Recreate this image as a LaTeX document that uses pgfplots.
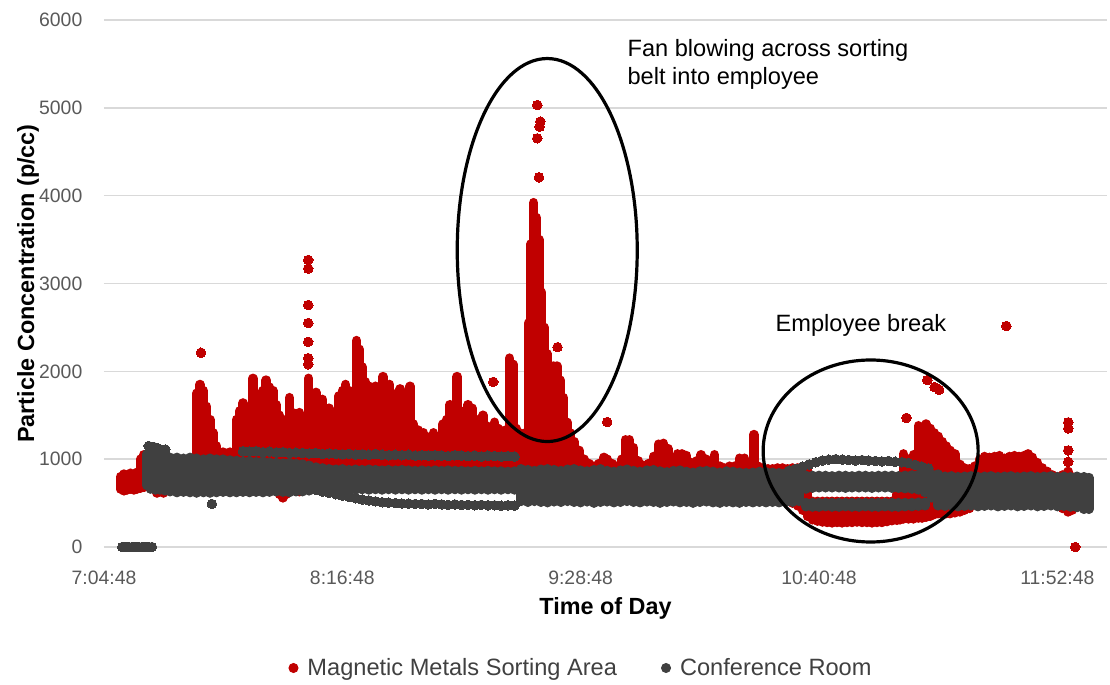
\documentclass[border=0pt]{standalone}
\usepackage{fontspec}
\setmainfont{Liberation Sans}
\usepackage{pgfplots}
\usepackage{pgfplotstable}
\pgfplotsset{compat=1.18}
\definecolor{cRed}{HTML}{C00000}
\definecolor{cGrey}{HTML}{404040}
\definecolor{cGrid}{HTML}{D9D9D9}
\definecolor{cTick}{HTML}{595959}

% x = minutes after 7:04:48
% Magnetic Metals Sorting Area: dense columns of points (lower, upper reading at each time)
\pgfplotstableread{
t lo hi
5 660 800
6 640 830
7 650 820
8 660 840
9 650 830
10 660 850
11 670 1000
12 680 1050
14 700 900
16 615 900
18 615 950
20 680 950
22 680 950
24 680 980
26 680 1000
28 680 1750
29 680 1850
30 680 1780
31 680 1600
32 680 1450
33 680 1300
34 680 1150
36 680 1080
38 680 1080
40 680 1450
41 680 1550
42 680 1640
43 680 1500
44 680 1480
45 680 1920
46 680 1500
47 680 1600
48 680 1780
49 680 1900
50 680 1820
51 680 1780
52 680 1620
53 600 1500
54 560 1430
55 600 1450
56 680 1700
57 680 1530
58 640 1500
59 630 1530
60 680 1400
61 680 1300
61.8 680 1920
63 680 1680
64 680 1760
65 680 1650
66 680 1680
68 680 1580
70 680 1480
71 680 1720
72 680 1780
73 680 1850
74 680 1780
75 680 1680
76.3 680 2350
77.2 680 2250
78 680 2050
79 680 1880
80 680 1830
81 680 1780
82 680 1830
83 680 1700
84.3 680 1940
85.3 680 1700
86.3 680 1850
87.5 680 1700
88.5 680 1750
89.5 680 1800
90.5 680 1650
91.5 680 1600
92.5 680 1830
93.5 680 1400
95 680 1330
96.5 680 1300
98 680 1250
99.5 680 1300
100.5 680 1200
101.5 680 950
102.5 680 1400
103.5 680 1450
104.5 680 1620
105.5 680 1500
106.7 680 1940
107.7 680 1550
109 680 1500
110 680 1620
111.2 680 1580
112.5 680 1450
113.5 680 1400
114.5 680 1500
115.5 680 1380
116.8 680 1350
118 680 1420
119 680 1350
120.2 680 1320
121.3 680 1330
122.5 680 2150
123.5 680 2080
124.5 680 1350
125.5 680 1300
126.5 680 950
127.3 680 1300
128.2 680 2550
129 680 3450
129.8 680 3920
130.6 680 3750
131.4 680 3500
132.2 680 2900
133 680 2500
133.8 680 2200
134.8 680 1950
135.8 680 2060
136.8 680 2060
137.8 680 1900
138.8 680 1700
139.8 680 1420
140.8 680 1300
142 680 1200
143.5 680 1100
145 680 1000
146.5 560 950
148 540 920
149.5 540 950
151 560 1020
152 560 1000
153.5 620 950
155 680 920
156.5 680 1000
157.5 680 1220
158.7 680 1220
160 680 1130
161.5 680 980
163 680 930
164.5 680 950
166 680 1030
167.5 680 1170
169 680 1180
170.3 680 1120
171.6 680 960
173.2 680 1060
174.6 680 1060
176 680 1040
177.5 680 960
179 680 980
180.4 680 1050
181.8 680 1000
183 680 960
184.4 680 1050
186 680 920
187.5 680 900
189 680 920
190.5 680 920
192 680 1010
193.5 600 1010
195 580 960
196.3 580 1280
197.5 580 920
199 580 900
200.5 580 890
202 580 890
203.5 560 900
205 540 900
206.5 520 890
208 500 900
209.5 470 900
211 420 900
212.5 350 880
214 310 520
215.5 295 520
217 285 520
218.5 280 520
220 275 520
221.5 280 520
223 275 520
224.5 280 520
226 280 520
227.5 285 520
229 280 520
230.5 280 520
232 275 520
233.5 280 520
235 280 520
236.5 290 520
238 300 520
239.5 305 600
240.5 310 700
241.5 320 1060
243 320 1000
244.5 320 1050
246 330 1380
247.2 330 1300
248.4 340 1400
249.6 350 1350
250.8 370 1300
252 380 1260
253.2 380 1200
254.4 380 1150
255.6 380 1100
257 390 1060
258.5 400 940
260 420 900
261.5 440 890
263 680 920
264.5 680 1000
266 680 1030
267.5 680 1020
269 680 1030
270.5 680 1040
272 680 1010
273.5 680 1030
275 680 1040
276.5 680 1030
278 680 1040
279.2 680 1060
280.5 680 1020
282 680 960
283.5 680 900
285 680 860
286.5 680 820
288 680 800
289.5 440 820
291.3 400 860
292.5 420 800
}\redcols

% Magnetic Metals Sorting Area: single readings standing apart
\pgfplotstableread{
t y
29.3 2212
61.7 2080
61.7 2150
61.7 2336
61.7 2550
61.7 2755
61.7 3170
61.7 3268
117.6 1880
130.9 5032
131.8 4843
131.6 4786
130.9 4653
131.4 4209
137.0 2275
152.0 1423
242.4 1470
248.7 1900
250.9 1820
252.3 1790
272.6 2516
291.3 970
291.3 1100
291.3 1350
291.3 1420
293.4 0
}\redpts

% Conference Room: dense band (lower, upper reading at each time)
\pgfplotstableread{
t lo hi
13 700 1060
14 660 1060
15.5 650 1050
17 650 1030
18.5 640 1030
20 630 1020
22 620 1020
24 625 1010
26 620 1020
28 615 1010
30 620 1000
32 615 1010
34 620 1000
36 625 1000
38 620 990
40 620 985
42 625 975
44 620 980
46 625 970
48 620 975
50 625 965
52 630 960
54 625 955
56 620 960
58 630 950
60 630 945
62 640 930
64 650 910
66 650 900
68 650 890
70 655 885
72 650 890
74 655 880
76 650 885
78 655 880
80 650 885
82 655 880
84 650 875
86 655 880
88 650 875
90 655 880
92 650 875
94 655 870
96 650 875
98 655 870
100 650 875
102 655 870
104 650 875
106 655 870
108 650 870
110 655 865
112 650 870
114 655 865
116 650 870
118 655 865
120 650 865
122 655 860
124 650 865
126 520 890
128 510 880
130 520 870
132 510 885
134 505 890
136 515 880
138 510 870
140 520 885
142 510 890
144 505 875
146 515 865
148 500 880
150 510 890
152 515 870
154 505 860
156 510 875
158 520 885
160 510 870
162 505 860
164 515 875
166 510 880
168 500 865
170 510 855
172 515 870
174 505 875
176 510 860
178 500 850
180 510 865
182 515 870
184 505 860
186 500 850
188 510 865
190 505 860
192 500 850
194 510 845
196 505 850
198 510 860
200 505 855
202 510 850
204 505 845
206 510 845
208 510 840
210 520 830
212 660 815
214 670 815
216 675 815
218 675 815
220 675 810
222 675 815
224 670 815
226 675 810
228 675 815
230 675 815
232 670 810
234 675 815
236 675 815
238 670 815
240 670 810
242 665 815
244 660 820
246 650 825
248 620 830
250 560 830
212 460 505
214 455 505
216 455 505
218 460 505
220 455 505
222 455 505
224 460 505
226 455 505
228 455 505
230 460 505
232 455 505
234 455 505
236 460 505
238 455 505
240 455 505
242 460 505
244 460 505
246 465 510
248 470 510
252 470 830
254 465 805
256 470 810
258 460 800
260 465 805
262 470 810
264 460 800
266 465 805
268 470 810
270 460 800
272 465 805
274 470 810
276 460 800
278 465 805
280 470 810
282 460 800
284 465 805
286 470 810
288 460 800
290 465 805
292 455 800
294 450 805
296 430 800
297.5 430 790
}\greycols

% Conference Room: separate tracks and single readings
\pgfplotstableread{
t y
5.5 0
6.5 0
7.5 0
8.5 0
9.5 0
10.5 0
11.5 0
12.5 0
13.5 0
14.5 0
13.5 1150
15 1140
16.5 1120
18.5 1110
32.6 490
42 1090
44 1085
46 1090
48 1080
50 1085
52 1075
54 1080
56 1070
58 1075
60 1070
62 1065
64 1070
66 1060
68 1065
70 1060
72 1055
74 1060
76 1050
78 1055
80 1050
82 1060
84 1050
86 1045
88 1050
90 1045
92 1050
94 1040
96 1045
98 1040
100 1045
102 1040
104 1035
106 1045
108 1040
110 1035
112 1040
114 1030
116 1040
118 1035
120 1030
122 1035
124 1030
64 650
66 630
68 615
70 600
72 585
74 570
76 555
78 540
80 530
82 520
84 510
86 505
88 500
90 495
92 495
94 490
96 490
98 485
100 490
102 485
104 480
106 485
108 480
110 480
112 475
114 480
116 475
118 475
120 470
122 475
124 470
207 870
209 890
211 915
213 940
215 965
217 985
219 995
221 1000
223 995
225 990
227 985
229 990
231 985
233 980
235 975
237 980
239 970
241 965
243 955
245 935
247 915
249 895
}\greytrk

\begin{document}
\begin{tikzpicture}
\useasboundingbox (-52pt,-69pt) rectangle (503pt,273.5pt);
\begin{axis}[
  scale only axis, width=501.5pt, height=263.5pt,
  xmin=0, xmax=303, ymin=0, ymax=6000,
  clip=false, clip marker paths=true,
  axis line style={draw=none},
  major tick length=0pt,
  xtick={0,72,144,216,288},
  xticklabels={7:04:48,8:16:48,9:28:48,10:40:48,11:52:48},
  ytick={0,1000,2000,3000,4000,5000,6000},
  ymajorgrids,
  grid style={cGrid, line width=0.75pt},
  /pgf/number format/assume math mode=true,
  /pgf/number format/1000 sep={},
  scaled y ticks=false,
  tick label style={font=\fontsize{9.7}{11.5}\selectfont, text=cTick},
  yticklabel style={anchor=east, xshift=-7.3pt},
  xticklabel style={anchor=center, yshift=-15.5pt},
  xlabel={Time of Day},
  ylabel={Particle Concentration (p/cc)},
  label style={font=\bfseries\fontsize{11.7}{14}\selectfont, text=black},
  xlabel style={at={(axis description cs:0.5,-0.1158)}, anchor=center},
  ylabel style={at={(axis description cs:-0.0758,0.5)}, anchor=center, rotate=0},
  legend style={draw=none, fill=none, legend columns=2,
    at={(axis description cs:0.4766,-0.2296)}, anchor=center,
    font=\fontsize{11.8}{14}\selectfont, text=cGrey,
    /tikz/every odd column/.append style={column sep=2.5pt},
    /tikz/every even column/.append style={column sep=20pt}},
  legend cell align=left,
]
% Magnetic Metals Sorting Area
\addplot[only marks, mark=none, color=cRed, forget plot,
  error bars/.cd, y dir=plus, y explicit, error mark=none,
  error bar style={line width=4.8pt, line cap=round, color=cRed}]
  table[x=t, y=lo, y error plus expr=\thisrow{hi}-\thisrow{lo}] {\redcols};
\addplot[only marks, mark=*, mark size=2.4pt, color=cRed,
  mark options={draw=cRed, fill=cRed, line width=0pt}, forget plot]
  table[x=t, y=y] {\redpts};
% Conference Room
\addplot[only marks, mark=none, color=cGrey, forget plot,
  error bars/.cd, y dir=plus, y explicit, error mark=none,
  error bar style={line width=4.8pt, line cap=round, color=cGrey}]
  table[x=t, y=lo, y error plus expr=\thisrow{hi}-\thisrow{lo}] {\greycols};
\addplot[only marks, mark=*, mark size=2.4pt, color=cGrey,
  mark options={draw=cGrey, fill=cGrey, line width=0pt}, forget plot]
  table[x=t, y=y] {\greytrk};

\addlegendimage{legend image code/.code={\fill[cRed] (0pt,0pt) circle (2.3pt);}}
\addlegendentry{Magnetic Metals Sorting Area}
\addlegendimage{legend image code/.code={\fill[cGrey] (0pt,0pt) circle (2.3pt);}}
\addlegendentry{Conference Room}

% annotations
\draw[black, line width=1.6pt] (axis cs:133.9,3381) ellipse [x radius=45pt, y radius=95.75pt];
\draw[black, line width=1.6pt] (axis cs:231.6,1093) ellipse [x radius=53.75pt, y radius=45.5pt];
\node[anchor=west, inner sep=0pt, font=\fontsize{11.8}{14}\selectfont] at (axis cs:158.05,5659) {Fan blowing across sorting};
\node[anchor=west, inner sep=0pt, font=\fontsize{11.8}{14}\selectfont] at (axis cs:158.05,5340) {belt into employee};
\node[anchor=west, inner sep=0pt, font=\fontsize{11.8}{14}\selectfont] at (axis cs:202.8,2528) {Employee break};
\end{axis}
\end{tikzpicture}
\end{document}
